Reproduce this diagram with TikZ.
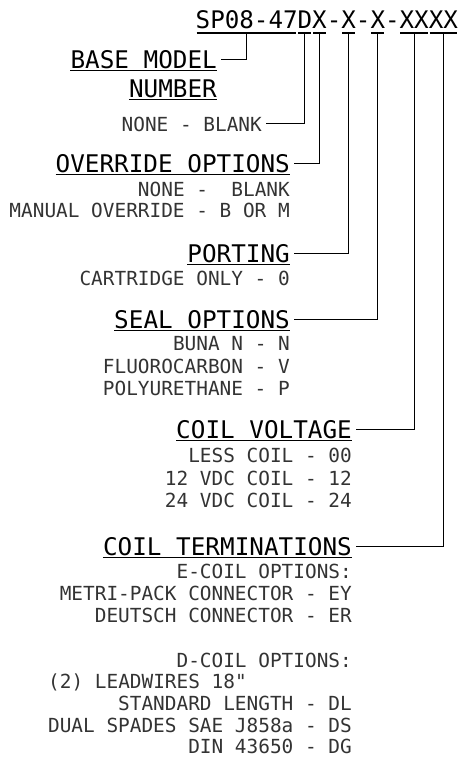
\documentclass[tikz,border=0pt]{standalone}
\usepackage{fontspec}
\newfontfamily\cadfont{DejaVu Sans Mono}
\usetikzlibrary{calc}
\newcommand{\adv}{14.57}

\begin{document}
\begin{tikzpicture}[x=1pt, y=-1pt,
  code/.style={font=\cadfont\fontsize{24.2}{26}\selectfont, inner sep=0pt,
               anchor=base west},
  head/.style={font=\cadfont\fontsize{24.3}{26}\selectfont, inner sep=0pt,
               anchor=base east},
  item/.style={font=\cadfont\fontsize{19.4}{21}\selectfont, inner sep=0pt,
               anchor=base east, text=black!80},
  uline/.style={line width=1.8pt},
  codeline/.style={line width=1.4pt},
  leader/.style={line width=1.1pt, shorten <=4pt},
]
  \useasboundingbox (0,0) rectangle (459,758);

  % Model code
  \node[code] (code) at (195.5,28) {SP08-47DX-X-X-XXXX};
  \foreach \a/\b/\n in {0/6/tBase, 7/7/tD, 8/8/tOvr, 10/10/tPort,
                        12/12/tSeal, 14/15/tVolt, 16/17/tTerm} {
    \draw[codeline] ($(code.base west)+(\a*\adv+1,5)$)
                 -- ($(code.base west)+(\b*\adv+\adv-1,5)$);
    \coordinate (\n) at ($(code.base west)+({(\a+\b+1)/2*\adv},5)$);
  }

  % Base model number
  \node[head] (hBase) at (217,68) {BASE MODEL};
  \node[head] (hNum) at (217,97) {NUMBER};
  \node[item] (iBlank) at (262,131) {NONE - BLANK};

  % Override options
  \node[head] (hOvr) at (290,172) {OVERRIDE OPTIONS};
  \node[item] (iOvrA) at (290,196) {NONE -\ \ BLANK};
  \node[item] (iOvrB) at (290,217) {MANUAL OVERRIDE - B OR M};

  % Porting
  \node[head] (hPort) at (290,262) {PORTING};
  \node[item] (iPort) at (290,285) {CARTRIDGE ONLY - 0};

  % Seal options
  \node[head] (hSeal) at (290,328) {SEAL OPTIONS};
  \node[item] (iSealA) at (290,350) {BUNA N - N};
  \node[item] (iSealB) at (290,373) {FLUOROCARBON - V};
  \node[item] (iSealC) at (290,395) {POLYURETHANE - P};

  % Coil voltage
  \node[head] (hVolt) at (352,438) {COIL VOLTAGE};
  \node[item] (iVoltA) at (352,462) {LESS COIL - 00};
  \node[item] (iVoltB) at (352,485) {12 VDC COIL - 12};
  \node[item] (iVoltC) at (352,507) {24 VDC COIL - 24};

  % Coil terminations
  \node[head] (hTerm) at (352,555) {COIL TERMINATIONS};
  \node[item] (iEcoil) at (352,578) {E-COIL OPTIONS:};
  \node[item] (iMetri) at (352,600) {METRI-PACK CONNECTOR - EY};
  \node[item] (iDeut) at (352,622) {DEUTSCH CONNECTOR - ER};
  \node[item] (iDcoil) at (352,667) {D-COIL OPTIONS:};
  \node[item, anchor=base west] (iLead) at (48,688) {(2) LEADWIRES 18"};
  \node[item] (iStd) at (352,710) {STANDARD LENGTH - DL};
  \node[item] (iDual) at (352,732) {DUAL SPADES SAE J858a - DS};
  \node[item] (iDin) at (352,753) {DIN 43650 - DG};

  % Heading underlines
  \foreach \h in {hBase, hNum, hOvr, hPort, hSeal, hVolt, hTerm}
    \draw[uline] ($(\h.base west)+(0,2.5)$) -- ($(\h.base east)+(0,2.5)$);

  % Leaders
  \draw[leader] (hBase.east) -| (tBase);
  \draw[leader] (iBlank.east) -| (tD);
  \draw[leader] (hOvr.east) -| (tOvr);
  \draw[leader] (hPort.east) -| (tPort);
  \draw[leader] (hSeal.east) -| (tSeal);
  \draw[leader] (hVolt.east) -| (tVolt);
  \draw[leader] (hTerm.east) -| (tTerm);

\end{tikzpicture}
\end{document}
